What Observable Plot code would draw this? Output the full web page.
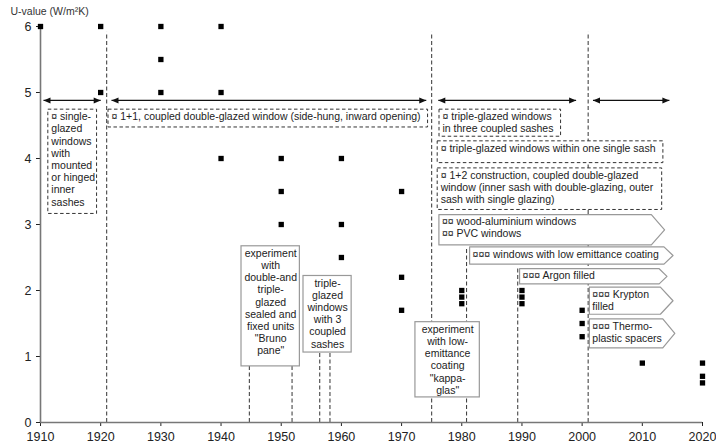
<!DOCTYPE html>
<html>
<head>
<meta charset="utf-8">
<script src="https://cdn.jsdelivr.net/npm/d3@7"></script>
<script src="https://cdn.jsdelivr.net/npm/@observablehq/plot@0.6"></script>
<style>
  html, body { margin: 0; padding: 0; background: #fff; }
  #chart svg { display: block; }
</style>
</head>
<body>
<div id="chart"></div>
<script>
// ---- data ----
const pointYear = [1910,1920,1920,1930,1930,1930,1940,1940,1940,1950,1950,1950,1960,1960,1960,1970,1970,1970,1980,1980,1980,1990,1990,1990,2000,2000,2000,2010,2020,2020,2020];
const pointU    = [6,   6,   5,   6,   5.5, 5,   6,   5,   4,   4,   3.5, 3,   4,   3,   2.5, 3.5, 2.2, 1.7, 2.0, 1.9, 1.8, 2.0, 1.9, 1.8, 1.7, 1.5, 1.3, 0.9, 0.9, 0.7, 0.6];

const xTicks = [1910,1920,1930,1940,1950,1960,1970,1980,1990,2000,2010,2020];
const yTicks = [0,1,2,3,4,5,6];
const yTitle = "U-value (W/m²K)";

// dashed period / leader lines (year, top U-value)
const ruleYear = [1921, 1975, 2001, 1944.7, 1951.8, 1956.4, 1958.1, 1980.8, 1989.3];
const ruleTop  = [5.91, 5.91, 5.91, 0.85,   0.85,   1.06,   1.06,   2.65,   2.33];

// double-headed period arrows
const arrowFrom = [1910.5, 1921.8, 1976.1, 2001.8];
const arrowTo   = [1920.0, 1974.1, 1999.0, 2014.5];
const arrowU    = [4.88, 4.88, 4.88, 4.88];

// dashed-border boxes (left-aligned text)
const dashText = [
  "¤ single-\nglazed\nwindows\nwith\nmounted\nor hinged\ninner\nsashes",
  "¤ 1+1, coupled double-glazed window (side-hung, inward opening)",
  "¤ triple-glazed windows\nin three coupled sashes",
  "¤ triple-glazed windows within one single sash",
  "¤ 1+2 construction, coupled double-glazed\nwindow (inner sash with double-glazing, outer\nsash with single glazing)"
];
const dashX1  = [1911.3, 1921.3, 1976.3, 1976.0, 1976.0];
const dashX2  = [1919.4, 1974.4, 1996.5, 2013.5, 2013.3];
const dashTop = [4.74,   4.74,   4.74,   4.26,   3.85];
const dashBot = [3.16,   4.47,   4.33,   3.93,   3.22];

// solid-border boxes (centred text)
const boxText = [
  "experiment\nwith\ndouble-and\ntriple-\nglazed\nsealed and\nfixed units\n\"Bruno\npane\"",
  "triple-\nglazed\nwindows\nwith 3\ncoupled\nsashes",
  "experiment\nwith low-\nemittance\ncoating\n\"kappa-\nglas\""
];
const boxX1  = [1943.4, 1953.7, 1972.3];
const boxX2  = [1953.1, 1961.7, 1983.0];
const boxTop = [2.67,   2.22,   1.52];
const boxBot = [0.85,   1.06,   0.38];

// arrow-shaped (flag) boxes
const flagText = [
  "¤¤ wood-aluminium windows\n¤¤ PVC windows",
  "¤¤¤ windows with low emittance coating",
  "¤¤¤ Argon filled",
  "¤¤¤ Krypton\nfilled",
  "¤¤¤ Thermo-\nplastic spacers"
];
const flagX1  = [1976.2, 1981.3, 1989.6, 2001.2, 2001.2];
const flagX2  = [2011.5, 2013.6, 2012.8, 2013.0, 2013.4];
const flagTip = [2013.7, 2015.1, 2014.1, 2015.1, 2015.4];
const flagTop = [3.15,   2.66,   2.33,   2.05,   1.57];
const flagBot = [2.69,   2.40,   2.10,   1.64,   1.13];

// ---- derived tables ----
const points = pointYear.map((x, i) => ({x, u: pointU[i]}));
const rules = ruleYear.map((x, i) => ({x, top: ruleTop[i]}));
const arrows = arrowFrom.map((a, i) => ({a, b: arrowTo[i], u: arrowU[i]}));
const dashBoxes = dashText.map((t, i) => ({t, x1: dashX1[i], x2: dashX2[i], top: dashTop[i], bot: dashBot[i]}));
const boxes = boxText.map((t, i) => ({t, x1: boxX1[i], x2: boxX2[i], top: boxTop[i], bot: boxBot[i]}));
const flags = flagText.map((t, i) => ({t, x1: flagX1[i], x2: flagX2[i], tip: flagTip[i], top: flagTop[i], bot: flagBot[i]}));
const flagOutline = flags.flatMap((f, i) => {
  const mid = (f.top + f.bot) / 2;
  return [[f.x1, f.top], [f.x2, f.top], [f.tip, mid], [f.x2, f.bot], [f.x1, f.bot], [f.x1, f.top]]
    .map(([x, y]) => ({id: i, x, y}));
});

// arrowhead symbols: tip at the anchor point
const headRight = {draw(c) { c.moveTo(0, 0); c.lineTo(-7, -3); c.lineTo(-7, 3); c.closePath(); }};
const headLeft  = {draw(c) { c.moveTo(0, 0); c.lineTo(7, -3); c.lineTo(7, 3); c.closePath(); }};

const FONT = "'Liberation Sans', Arial, sans-serif";
const BOXFONT = 10.5;
const LH = 1.16;

const chart = Plot.plot({
  width: 716,
  height: 446,
  marginLeft: 40,
  marginRight: 14,
  marginTop: 26,
  marginBottom: 24,
  style: {fontFamily: FONT, fontSize: "12.5px", color: "#222", background: "#fff"},
  x: {domain: [1910, 2020], ticks: xTicks, tickFormat: d => String(d), tickSize: 4, tickPadding: 6, label: null},
  y: {domain: [0, 6], ticks: yTicks, tickFormat: d => String(d), tickSize: 4, tickPadding: 5, label: null},
  marks: [
    // dashed rules
    Plot.ruleX(rules, {x: "x", y1: 0, y2: "top", stroke: "#333", strokeWidth: 1, strokeDasharray: "4,2.5"}),
    // axis lines
    Plot.ruleX([1910], {stroke: "#777", strokeWidth: 1.6}),
    Plot.ruleY([0], {stroke: "#777", strokeWidth: 1.6}),
    // period arrows
    Plot.link(arrows, {x1: "a", x2: "b", y1: "u", y2: "u", stroke: "#111", strokeWidth: 1.3}),
    Plot.dot(arrows, {x: "b", y: "u", symbol: headRight, r: 3, fill: "#111", stroke: null}),
    Plot.dot(arrows, {x: "a", y: "u", symbol: headLeft, r: 3, fill: "#111", stroke: null}),
    // dashed boxes
    Plot.rect(dashBoxes, {x1: "x1", x2: "x2", y1: "bot", y2: "top", fill: "#fff", stroke: "#333", strokeWidth: 1, strokeDasharray: "3.5,2.5"}),
    Plot.text(dashBoxes, {x: "x1", y: "top", text: "t", dx: 3, dy: 2, textAnchor: "start", lineAnchor: "top", lineHeight: LH, fontSize: BOXFONT, fill: "#222"}),
    // solid boxes
    Plot.rect(boxes, {x1: "x1", x2: "x2", y1: "bot", y2: "top", fill: "#fff", stroke: "#999", strokeWidth: 1.2}),
    Plot.text(boxes, {x: d => (d.x1 + d.x2) / 2, y: "top", text: "t", dy: 2, textAnchor: "middle", lineAnchor: "top", lineHeight: LH, fontSize: BOXFONT, fill: "#222"}),
    // flag boxes
    Plot.line(flagOutline, {x: "x", y: "y", z: "id", fill: "#fff", stroke: "#999", strokeWidth: 1.2, curve: "linear"}),
    Plot.text(flags, {x: "x1", y: "top", text: "t", dx: 3, dy: 2, textAnchor: "start", lineAnchor: "top", lineHeight: LH, fontSize: BOXFONT, fill: "#222"}),
    // data squares
    Plot.dot(points, {x: "x", y: "u", symbol: "square", r: 3, fill: "#000", stroke: null}),
    // y title
    Plot.text([yTitle], {frameAnchor: "top-left", dx: -30, dy: -15, textAnchor: "start", lineAnchor: "middle", fontSize: 10.5, fill: "#333"})
  ]
});
document.getElementById("chart").appendChild(chart);
</script>
</body>
</html>
